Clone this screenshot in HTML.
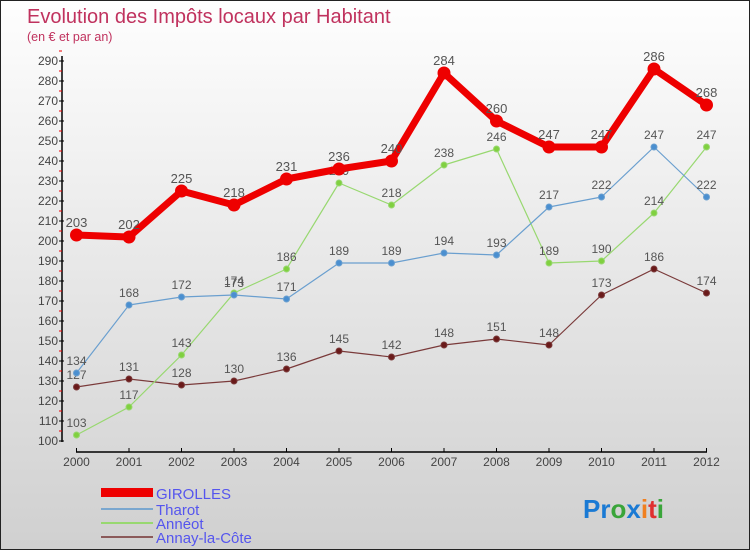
<!DOCTYPE html>
<html><head><meta charset="utf-8"><style>
body{margin:0}
#c{width:750px;height:550px;position:relative;box-sizing:border-box;border:1px solid #222;background:linear-gradient(#fefefe,#d0d0d0);font-family:"Liberation Sans",sans-serif;overflow:hidden}
text{font-family:"Liberation Sans",sans-serif}
</style></head><body>
<div id="c">
<svg id="s" width="750" height="550">
<text x="26" y="22" font-size="20" fill="#c0325e">Evolution des Impôts locaux par Habitant</text>
<text x="26" y="40" font-size="12.5" fill="#c0325e">(en € et par an)</text>
<g id="ax"></g><g id="series"></g>
<g>
<rect x="100" y="487" width="52" height="9" fill="#e00"/>
<text x="155" y="498" font-size="15" fill="#5555ee">GIROLLES</text>
<line x1="100" y1="508" x2="152" y2="508" stroke="#7aa7cf" stroke-width="2"/>
<text x="155" y="514" font-size="15" fill="#5555ee">Tharot</text>
<line x1="100" y1="522" x2="152" y2="522" stroke="#98d870" stroke-width="2"/>
<text x="155" y="528" font-size="15" fill="#5555ee">Annéot</text>
<line x1="100" y1="536" x2="152" y2="536" stroke="#8b5a5a" stroke-width="2"/>
<text x="155" y="542" font-size="15" fill="#5555ee">Annay-la-Côte</text>
</g>
<text x="582" y="517" font-size="26" font-weight="bold"><tspan fill="#1a7ad4">Pr</tspan><tspan fill="#3aa53a">o</tspan><tspan fill="#1a7ad4">x</tspan><tspan fill="#f08020">i</tspan><tspan fill="#e03030">t</tspan><tspan fill="#3aa53a">i</tspan></text>
</svg></div>
<script>
const years=[2000,2001,2002,2003,2004,2005,2006,2007,2008,2009,2010,2011,2012];
const girolles=[203,202,225,218,231,236,240,284,260,247,247,286,268];
const tharot=[134,168,172,173,171,189,189,194,193,217,222,247,222];
const anneot=[103,117,143,174,186,229,218,238,246,189,190,214,247];
const annay=[127,131,128,130,136,145,142,148,151,148,173,186,174];
const yTicks=[100,110,120,130,140,150,160,170,180,190,200,210,220,230,240,250,260,270,280,290];
const NS="http://www.w3.org/2000/svg";
const xS=i=>75.5+i*(705.5-75.5)/(years.length-1);
const yS=v=>440-(v-100)*2;
function mk(t,a,p){const e=document.createElementNS(NS,t);for(const k in a)e.setAttribute(k,a[k]);p.appendChild(e);return e;}
const ax=document.getElementById('ax');
let l=mk('line',{x1:61,y1:55,x2:61,y2:441,stroke:'#000','stroke-width':1.5},ax);


l=mk('line',{x1:75,y1:451,x2:706,y2:451,stroke:'#000','stroke-width':1.5},ax);


yTicks.forEach(v=>{const y=yS(v);
mk('line',{x1:58,y1:y,x2:63,y2:y,stroke:'#000'},ax);
mk('line',{x1:58,y1:y-10,x2:61,y2:y-10,stroke:'#e00'},ax);
const t=mk('text',{x:57,y:y+4,'font-size':12,fill:'#444','text-anchor':'end'},ax);t.textContent=v;

});
years.forEach((yr,i)=>{const x=xS(i);
mk('line',{x1:x,y1:447,x2:x,y2:451,stroke:'#000'},ax);
const t=mk('text',{x:x,y:465,'font-size':12,fill:'#444','text-anchor':'middle'},ax);t.textContent=yr;

});
const sg=document.getElementById('series');
function draw(vals,name,color,w,r,dot,lab){
const g=mk('g',{},sg);


const p=mk('polyline',{points:vals.map((v,i)=>xS(i)+','+yS(v)).join(' '),fill:'none',stroke:color,'stroke-width':w,'stroke-linejoin':'round'},g);


vals.forEach((v,i)=>{const c=mk('circle',{cx:xS(i),cy:yS(v),r:r,fill:dot,stroke:color,'stroke-width':1},g);


const t=mk('text',{x:xS(i),y:yS(v)-8,'font-size':lab,fill:'#555','text-anchor':'middle'},g);t.textContent=v;

});}
draw(annay,'annay','#7a3a3a',1.2,3,'#6a1a1a',12);
draw(anneot,'anneot','#98d870',1.2,3,'#80d040',12);
draw(tharot,'tharot','#6a9fcf',1.2,3,'#4a8fd0',12);
draw(girolles,'girolles','#e00',7,6,'#e00',13);
</script>
</body></html>
